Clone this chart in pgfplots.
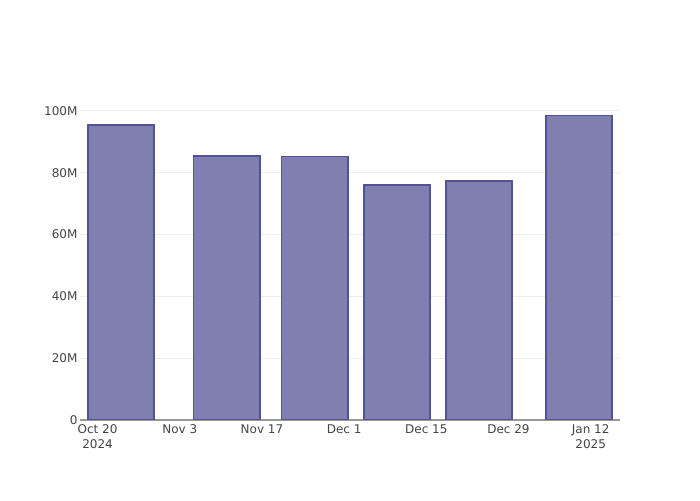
\documentclass[border=0pt]{standalone}
\usepackage{fontspec}
\setmainfont{DejaVu Sans}
\usepackage{pgfplots}
\pgfplotsset{compat=1.18}
\definecolor{barfill}{RGB}{127,127,176}
\definecolor{baredge}{RGB}{82,82,148}
\definecolor{gridc}{RGB}{238,238,238}
\definecolor{txt}{RGB}{68,68,68}
\begin{document}
\begin{tikzpicture}
\useasboundingbox (0pt,0pt) rectangle (700pt,500pt);
\begin{axis}[
  at={(80pt,80pt)}, anchor=south west,
  width=540pt, height=320pt, scale only axis,
  xmin=-3, xmax=89, ymin=0, ymax=103.56,
  axis x line*=bottom, axis y line*=left,
  x axis line style={draw=black!40, line width=1pt, -},
  y axis line style={draw=none},
  ymajorgrids, grid style={gridc, line width=1pt},
  major tick length=0pt,
  xtick={0,14,28,42,56,70,84},
  xticklabels={{Oct 20\\2024},{Nov 3},{Nov 17},{Dec 1},{Dec 15},{Dec 29},{Jan 12\\2025}},
  x tick label style={align=center, font=\fontsize{12}{15}\selectfont, text=txt, yshift=-1pt},
  ytick={0,20,40,60,80,100},
  yticklabels={0,20M,40M,60M,80M,100M},
  y tick label style={font=\fontsize{12}{14}\selectfont, text=txt, xshift=1pt},
  ybar, bar width=11.3,
]
\addplot[draw=baredge, fill=barfill, line width=1.6pt] coordinates {
  (4,95.5) (22,85.4) (37,85.3) (51,76.1) (65,77.4) (82,98.5)
};
\end{axis}
\end{tikzpicture}
\end{document}
